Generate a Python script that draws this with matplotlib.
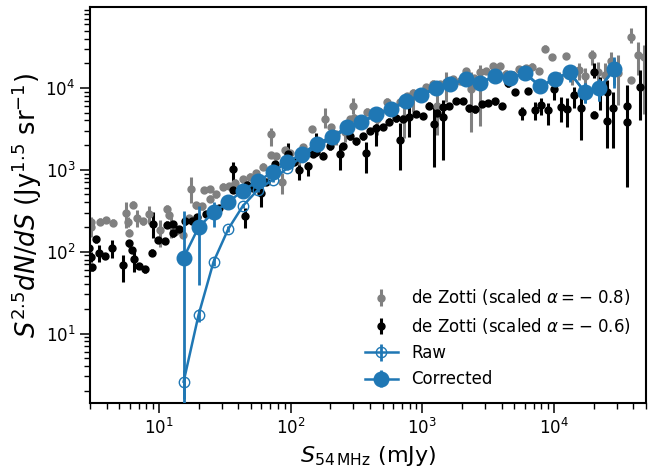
import numpy as np
import matplotlib
matplotlib.use("Agg")
import matplotlib.pyplot as plt

# de Zotti et al. compilation of 1.4 GHz source counts (S in mJy, S^2.5 dN/dS in Jy^1.5 sr^-1)
dz_S14 = [0.2256, 0.2267, 0.2655, 0.2934, 0.3294, 0.4164, 0.4327, 0.4373, 0.4723, 0.5004,
          0.5557, 0.6206, 0.7522, 0.8462, 0.8865, 0.9124, 0.9959, 1.120, 1.259, 1.288,
          1.406, 1.581, 1.640, 1.812, 1.806, 2.013, 2.256, 2.527, 2.773, 3.208,
          3.607, 4.055, 4.552, 5.211, 5.211, 5.756, 6.394, 6.657, 7.331, 8.492,
          9.156, 10.72, 13.53, 14.95, 16.40, 19.20, 20.96, 21.98, 22.24, 24.97,
          28.08, 33.45, 35.44, 39.85, 44.81, 50.30, 53.4, 56.56, 62.84, 71.4,
          79.3, 89.6, 96.2, 100.8, 112.6, 126.6, 142.3, 159.7, 174.1, 181.9,
          202.0, 202.0, 226.7, 255.0, 286.8, 321.9, 358.7, 403.5, 450.6, 506.5,
          568.6, 637.3, 716.5, 805.6, 904.4, 1017, 1136, 1270, 1426, 1603,
          1790, 2013, 2264, 2858, 2858, 3191, 3569, 3569, 4006, 5065,
          5065, 6393]
dz_counts14 = [3.99, 4.63, 4.67, 4.90, 4.54, 5.92, 4.63, 3.44, 7.56, 5.19,
               4.72, 5.87, 3.67, 6.76, 5.60, 4.30, 3.56, 3.25, 5.19, 11.64,
               7.42, 7.21, 11.42, 11.64, 8.96, 10.11, 12.50, 12.67, 14.03, 15.35,
               16.61, 18.28, 22.02, 54.9, 30.63, 29.78, 14.43, 35.27, 31.86, 27.67,
               38.05, 63.2, 83.8, 66.3, 53.4, 58.6, 83.8, 120.9, 87.0, 79.2,
               102.9, 83.8, 102.9, 136.5, 118.5, 136.5, 85.5, 158.9, 171.9, 176.9,
               206.6, 226.7, 121.9, 222.9, 237.8, 257.4, 243.3, 324.3, 195.3, 264.0,
               310.9, 234.5, 321.6, 370.2, 371.3, 299.7, 292.2, 341.2, 347.9, 366.1,
               321.6, 608.1, 478.6, 268.5, 490.9, 284.1, 333.6, 284.1, 513.4, 312.6,
               292.2, 432.4, 304.0, 845.9, 251.7, 502.0, 481.3, 208.3, 304.0, 324.3,
               202.5, 546.6]
# lower / upper uncertainties in dex
dz_errlo = [0.12, 0.04, 0.04, 0.04, 0.04, 0.184, 0.06, 0.04, 0.04, 0.114,
            0.04, 0.122, 0.208, 0.04, 0.04, 0.16, 0.04, 0.04, 0.04, 0.171,
            0.04, 0.04, 0.04, 0.04, 0.04, 0.04, 0.04, 0.04, 0.04, 0.04,
            0.04, 0.04, 0.04, 0.15, 0.04, 0.04, 0.147, 0.04, 0.04, 0.17,
            0.04, 0.04, 0.11, 0.04, 0.12, 0.12, 0.04, 0.10, 0.04, 0.04,
            0.04, 0.196, 0.04, 0.04, 0.04, 0.04, 0.245, 0.04, 0.22, 0.04,
            0.04, 0.04, 0.359, 0.04, 0.245, 0.04, 0.04, 0.04, 0.527, 0.04,
            0.04, 0.527, 0.04, 0.04, 0.04, 0.04, 0.04, 0.04, 0.04, 0.04,
            0.04, 0.04, 0.04, 0.09, 0.04, 0.114, 0.122, 0.175, 0.126, 0.18,
            0.212, 0.149, 0.388, 0.073, 0.04, 0.239, 0.20, 0.33, 0.49, 0.04,
            0.79, 0.398]
dz_errhi = [0.12, 0.04, 0.04, 0.04, 0.04, 0.142, 0.06, 0.04, 0.04, 0.094,
            0.04, 0.098, 0.122, 0.04, 0.04, 0.11, 0.04, 0.04, 0.04, 0.147,
            0.04, 0.04, 0.04, 0.04, 0.04, 0.04, 0.04, 0.04, 0.04, 0.04,
            0.04, 0.04, 0.04, 0.08, 0.04, 0.04, 0.10, 0.04, 0.04, 0.06,
            0.04, 0.04, 0.135, 0.04, 0.06, 0.05, 0.04, 0.10, 0.04, 0.04,
            0.04, 0.11, 0.04, 0.04, 0.04, 0.04, 0.135, 0.04, 0.05, 0.04,
            0.04, 0.04, 0.217, 0.04, 0.122, 0.04, 0.04, 0.04, 0.208, 0.04,
            0.04, 0.208, 0.04, 0.04, 0.04, 0.04, 0.04, 0.04, 0.04, 0.04,
            0.04, 0.04, 0.04, 0.07, 0.04, 0.107, 0.086, 0.094, 0.058, 0.126,
            0.143, 0.108, 0.224, 0.11, 0.04, 0.165, 0.147, 0.25, 0.20, 0.04,
            0.46, 0.214]

# 54 MHz counts
S_bins = [15.4, 20.0, 26.0, 33.6, 43.4, 56.4, 73.0, 94.4, 122, 158,
          206, 267, 345, 443, 576, 753, 974, 1271, 1636, 2142,
          2761, 3572, 4653, 6017, 7857, 10120, 13160, 17060, 22110, 28600]
corrected = [84.3, 198.6, 303, 403, 557, 726, 936, 1241, 1568, 2080,
             2533, 3331, 3812, 4845, 5579, 6931, 8210, 10000, 11070, 12890,
             11610, 14150, 13300, 15180, 10510, 12920, 15520, 9010, 9944, 16850]
corrected_err = [225, 160, 103, 40, 40, 50, 50, 60, 70, 90,
                 110, 140, 160, 200, 230, 280, 330, 400, 450, 520,
                 500, 600, 700, 800, 900, 1200, 3600, 2500, 3000, 7000]
raw = [2.58, 16.9, 75.3, 189, 362, 569, 754, 1048, 1450, 1950,
       2420, 3200, 3700, 4700, 5450, 6800, 8050, 9800, 10900, 12700,
       11450, 13950, 13100, 15000, 10400, 12800, 15400, 8950, 9900, 16750]
raw_err = [1.0, 3, 8, 15, 25, 35, 45, 55, 65, 80,
           95, 120, 140, 170, 200, 250, 300, 350, 400, 450,
           450, 550, 600, 700, 800, 1000, 3000, 2500, 3000, 6000]


def scaled(alpha):
    f = (54.0 / 1400.0) ** alpha
    S = np.array(dz_S14) * f
    y = np.array(dz_counts14) * f ** 1.5
    lo = y * (1 - 10 ** (-np.array(dz_errlo)))
    hi = y * (10 ** np.array(dz_errhi) - 1)
    return S, y, np.vstack([lo, hi])


plt.rcParams["font.family"] = ["DejaVu Sans"]
fig = plt.figure(figsize=(6.48, 4.68), dpi=100)
ax = fig.add_axes([0.139, 0.138, 0.858, 0.846])

labels = {-0.8: r"de Zotti (scaled $\alpha = -$ 0.8)",
          -0.6: r"de Zotti (scaled $\alpha = -$ 0.6)"}
for alpha, col in [(-0.8, "gray"), (-0.6, "black")]:
    S, y, e = scaled(alpha)
    ax.errorbar(S, y, yerr=e, fmt="o", color=col, ms=5, elinewidth=2.2,
                capsize=0, label=labels[alpha])

blue = "#1f77b4"
ax.errorbar(S_bins, raw, yerr=raw_err, fmt="-o", color=blue, ms=7.5, mfc="none",
            mew=1.0, lw=1.8, elinewidth=2, label="Raw", zorder=5)
ax.errorbar(S_bins, corrected, yerr=corrected_err, fmt="-o", color=blue, ms=10.5,
            lw=1.8, elinewidth=2, label="Corrected", zorder=6)

ax.set_xscale("log")
ax.set_yscale("log")
ax.set_xlim(3, 5e4)
ax.set_ylim(1.4, 9.6e4)

ax.set_xlabel(r"$S_{54\,\mathrm{MHz}}$ (mJy)", fontsize=16)
ax.set_ylabel(r"$S^{2.5}dN/dS$ (Jy$^{1.5}$ sr$^{-1}$)", fontsize=18.5, labelpad=1)
ax.tick_params(axis="both", which="major", labelsize=12, length=7, width=1.1)
ax.tick_params(axis="both", which="minor", length=4, width=1.0)
for sp in ax.spines.values():
    sp.set_linewidth(1.5)

ax.legend(loc="lower right", frameon=False, fontsize=12)

fig.savefig("out.png", dpi=100)
